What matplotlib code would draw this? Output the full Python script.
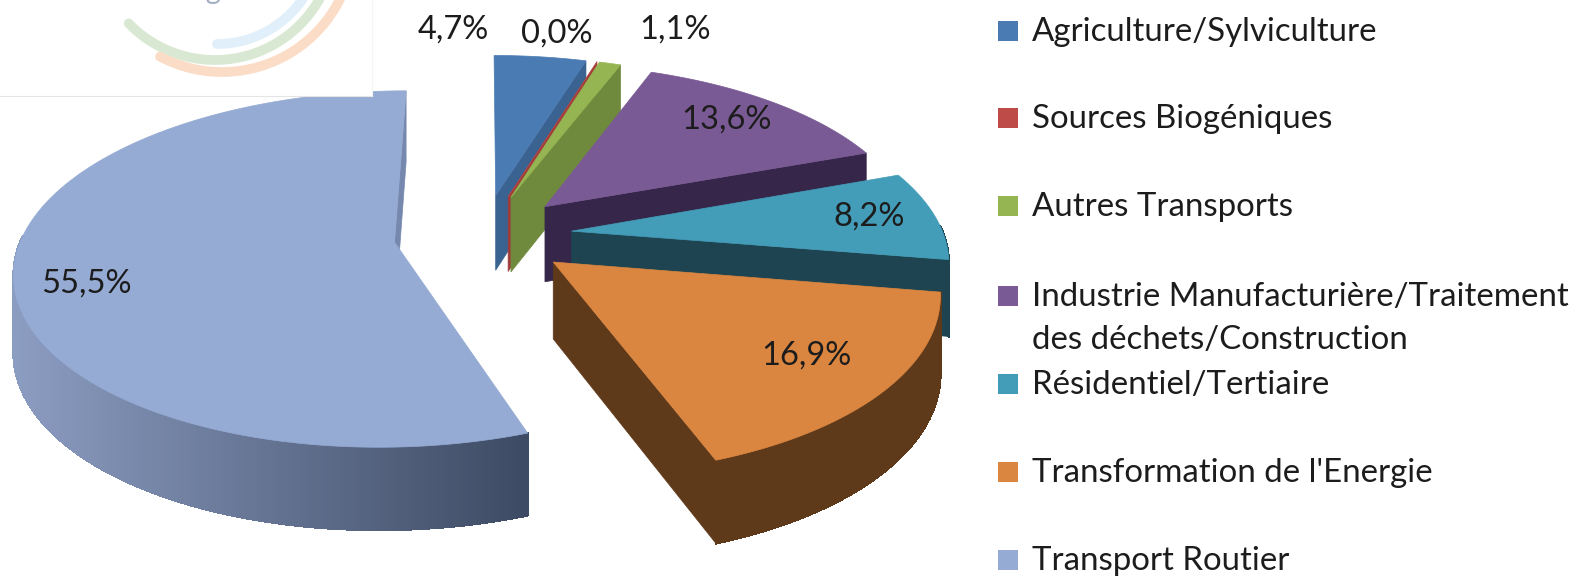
import numpy as np
import matplotlib
matplotlib.use('Agg')
import matplotlib.pyplot as plt
from matplotlib.collections import PolyCollection
from matplotlib.colors import to_rgb

# data
categories = ['Agriculture/Sylviculture', 'Sources Biogéniques', 'Autres Transports',
              'Industrie Manufacturière/Traitement\ndes déchets/Construction',
              'Résidentiel/Tertiaire', "Transformation de l'Energie", 'Transport Routier']
values = [4.7, 0.0, 1.1, 13.6, 8.2, 16.9, 55.5]

# colours
top_colors = ['#4A7BB2', '#BE4B48', '#94B552', '#7A5A94', '#439DB8', '#DB8640', '#95ABD4']
side_colors = ['#3A6391', '#A03C3A', '#6F8A3D', '#35264A', '#1D4450', '#5E3A1B', '#7688AE']
rim_left = ['#3A6391', '#A03C3A', '#6F8A3D', '#35264A', '#1D4450', '#5E3A1B', '#8C9DC2']
rim_right = ['#3A6391', '#A03C3A', '#6F8A3D', '#35264A', '#1D4450', '#5E3A1B', '#3E4B64']
legend_colors = ['#4A7BB2', '#BE4B48', '#94B552', '#7A5A94', '#439DB8', '#DB8640', '#95ABD4']

# projection of the tilted pie
cx, cy = 483, 235
a, b = 372, 172
persp = 0.15
depth = 76
explode = 0.24

# label and legend places, in pixels
label_xy = [(453, 30), (557, 34), (675, 30), (726, 120), (869, 217), (806, 356), (86, 284)]
legend_y = [31, 118, 206, 296, 384, 472, 560]

plt.rcParams['font.family'] = ['Lato', 'DejaVu Sans']

fig = plt.figure(figsize=(15.81, 5.76), dpi=100)
ax = fig.add_axes([0, 0, 1, 1])
ax.set_xlim(0, 1581)
ax.set_ylim(576, 0)
ax.axis('off')


def project(X, Y):
    w = 1 + persp * Y
    return cx + a * X / w, cy - b * Y / w, depth / np.sqrt(w)


starts = np.cumsum([0] + values[:-1]) * 3.6
for i, v in enumerate(values):
    t0 = np.radians(starts[i])
    t1 = np.radians(starts[i] + v * 3.6)
    mid = (t0 + t1) / 2
    ox, oy = explode * np.sin(mid), explode * np.cos(mid)
    th = np.linspace(t0, t1, max(int(v * 6), 3))
    x, y, d = project(ox + np.sin(th), oy + np.cos(th))
    x0, y0, d0 = project(ox, oy)

    # rim, only the part which faces the viewer
    quads, cols = [], []
    c0, c1 = np.array(to_rgb(rim_left[i])), np.array(to_rgb(rim_right[i]))
    for k in range(len(th) - 1):
        if np.cos(th[k]) > 0.03:
            continue
        quads.append([(x[k], y[k]), (x[k + 1], y[k + 1]),
                      (x[k + 1], y[k + 1] + d[k + 1]), (x[k], y[k] + d[k])])
        f = np.clip((x[k] - 12) / 510, 0, 1)
        cols.append(c0 + (c1 - c0) * f)
    if quads:
        ax.add_collection(PolyCollection(quads, facecolors=cols, edgecolors=cols,
                                         linewidths=1, antialiaseds=False))

    # cut face at the end of the slice
    ax.fill([x[-1], x0, x0, x[-1]], [y[-1], y0, y0 + d0, y[-1] + d[-1]],
            color=side_colors[i], lw=0.5)
    # top
    ax.fill(np.r_[x0, x], np.r_[y0, y], color=top_colors[i], lw=0.5)

# white logo box sits over the pie
ax.fill([0, 372, 372, 0], [0, 0, 96, 96], color='white', lw=0, zorder=5)
ax.plot([0, 372], [96, 96], color='#E4E4E4', lw=0.8, zorder=5)
ax.plot([372, 372], [0, 96], color='#F4F4F4', lw=0.8, zorder=5)

logo_cols = ['#D9E8D2', '#FBDCC6', '#E0EFF9']
logo_r = [120, 132, 104]
logo_c = [215, 222, 217]
logo_a = [(25, 136), (25, 118), (25, 90)]
for col, r, c, (p, q) in zip(logo_cols, logo_r, logo_c, logo_a):
    t = np.radians(np.linspace(p, q, 80))
    ax.plot(c + r * np.cos(t), -60 + r * np.sin(t), color=col, lw=7,
            solid_capstyle='round', zorder=6)
ax.text(243, -9, 'air climat énergie', color='#A3AFC2', fontsize=21, ha='right',
        va='center', zorder=6, clip_on=True)

# value labels
for v, (lx, ly) in zip(values, label_xy):
    ax.text(lx, ly, f'{v:.1f}%'.replace('.', ','), color='#1C1C1C', fontsize=23.5,
            ha='center', va='center', zorder=7)

# legend
for name, col, ly in zip(categories, legend_colors, legend_y):
    ax.scatter([1008], [ly], marker='s', s=190, color=col, linewidths=0, zorder=7)
    ax.text(1032, ly - 14, name, color='#1C1C1C', fontsize=23.8, ha='left', va='top',
            linespacing=1.53, zorder=7)

fig.savefig('out.png', dpi=100)
